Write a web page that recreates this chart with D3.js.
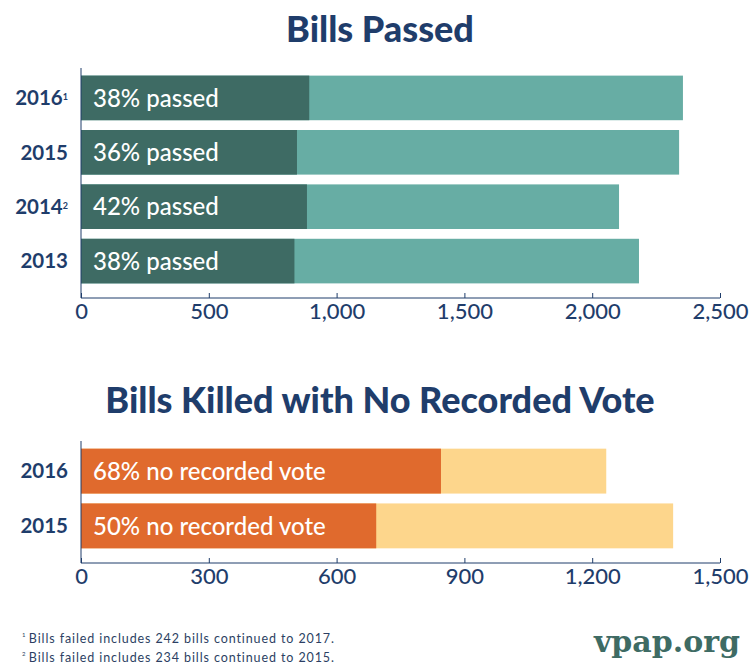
<!DOCTYPE html>
<html>
<head>
<meta charset="utf-8">
<script src="https://cdn.jsdelivr.net/npm/d3@7"></script>
<style>
  body { margin: 0; background: #fff; }
  svg { display: block; font-family: Lato, "Open Sans", sans-serif; }
</style>
</head>
<body>
<div id="chart"></div>
<script>
// Bills passed, by session
const passedYears = ['2016', '2015', '2014', '2013']
const passedNotes = ['1', '', '2', '']
const passedTotal = [2355, 2340, 2105, 2183]
const passedCount = [893, 845, 884, 835]
const passedLabels = ['38% passed', '36% passed', '42% passed', '38% passed']
const passedTicks = [0, 500, 1000, 1500, 2000, 2500]

// Bills killed with no recorded vote
const killedYears = ['2016', '2015']
const killedTotal = [1233, 1390]
const killedNoVote = [845, 693]
const killedLabels = ['68% no recorded vote', '50% no recorded vote']
const killedTicks = [0, 300, 600, 900, 1200, 1500]

const footnotes = [
  ['1', 'Bills failed includes 242 bills continued to 2017.'],
  ['2', 'Bills failed includes 234 bills continued to 2015.']
]

const navy = '#1f3d6b'
const W = 751, H = 667

const svg = d3.select('#chart').append('svg')
  .attr('width', W).attr('height', H)

function panel(opts) {
  const { title, titleY, top, bottom, axisY, years, notes, total, part, labels, ticks, max, dark, light } = opts
  const x = d3.scaleLinear().domain([0, max]).range([81, 720])
  const y = d3.scaleBand().domain(years).range([top, bottom]).paddingInner(0.18).paddingOuter(0.14)

  svg.append('text')
    .attr('x', 380).attr('y', titleY)
    .attr('text-anchor', 'middle')
    .attr('fill', navy)
    .style('font-size', '36px').style('font-weight', 900)
    .text(title)

  const g = svg.append('g')

  g.selectAll('rect.total').data(years).join('rect')
    .attr('x', x(0)).attr('y', d => y(d))
    .attr('width', (d, i) => x(total[i]) - x(0))
    .attr('height', y.bandwidth())
    .attr('fill', light)

  g.selectAll('rect.part').data(years).join('rect')
    .attr('x', x(0)).attr('y', d => y(d))
    .attr('width', (d, i) => x(part[i]) - x(0))
    .attr('height', y.bandwidth())
    .attr('fill', dark)

  g.selectAll('text.lbl').data(years).join('text')
    .attr('x', x(0) + 12).attr('y', d => y(d) + y.bandwidth() / 2)
    .attr('dy', '0.36em')
    .attr('fill', '#fff')
    .style('font-size', '24px').style('font-weight', 500)
    .text((d, i) => labels[i])

  // year labels, with footnote superscripts
  const yl = g.selectAll('text.year').data(years).join('text')
    .attr('x', 68).attr('y', d => y(d) + y.bandwidth() / 2)
    .attr('dy', '0.36em')
    .attr('text-anchor', 'end')
    .attr('fill', navy)
    .style('font-size', '20.5px').style('font-weight', 700)
  yl.append('tspan').text(d => d)
  yl.append('tspan')
    .attr('dy', '-0.6em')
    .style('font-size', '9px')
    .text((d, i) => notes ? notes[i] : '')

  // axes
  const ax = g.append('g')
    .attr('transform', `translate(0,${axisY})`)
    .call(d3.axisBottom(x).tickValues(ticks).tickSize(-5).tickFormat(d3.format(',')).tickPadding(5))
  ax.select('.domain').attr('stroke', navy).attr('stroke-width', 1).attr('d', `M${x(0)},0H${x(max)}`)
  ax.selectAll('.tick line').attr('stroke', navy).attr('stroke-width', 1)
  ax.selectAll('.tick text')
    .attr('fill', navy)
    .style('font-size', '22px').style('font-family', 'Lato, sans-serif').style('font-weight', 500)
    .attr('dy', '0.72em')

  g.append('line')
    .attr('x1', x(0)).attr('x2', x(0))
    .attr('y1', top).attr('y2', axisY)
    .attr('stroke', navy).attr('stroke-width', 1)
}

panel({
  title: 'Bills Passed', titleY: 42,
  top: 68, bottom: 291, axisY: 298,
  years: passedYears, notes: passedNotes,
  total: passedTotal, part: passedCount, labels: passedLabels,
  ticks: passedTicks, max: 2500,
  dark: '#3e6b64', light: '#67ada4'
})

panel({
  title: 'Bills Killed with No Recorded Vote', titleY: 413,
  top: 441, bottom: 556, axisY: 563,
  years: killedYears, notes: null,
  total: killedTotal, part: killedNoVote, labels: killedLabels,
  ticks: killedTicks, max: 1500,
  dark: '#e06a2d', light: '#fdd68c'
})

// footnotes
const fn = svg.append('g')
footnotes.forEach((f, i) => {
  const t = fn.append('text')
    .attr('x', 22).attr('y', 640 + i * 19)
    .attr('fill', '#2c3f63')
    .style('font-size', '12.5px')
    .style('letter-spacing', '0.9px')
  t.append('tspan').attr('dy', '-0.45em').style('font-size', '6px').text(f[0] + ' ')
  t.append('tspan').attr('dy', '0.45em').text(f[1])
})

svg.append('text')
  .attr('x', 740).attr('y', 652)
  .attr('text-anchor', 'end')
  .attr('fill', '#3e6b64')
  .style('font-family', '"DejaVu Serif", serif')
  .style('font-size', '30px').style('font-weight', 700)
  .text('vpap.org')
</script>
</body>
</html>
